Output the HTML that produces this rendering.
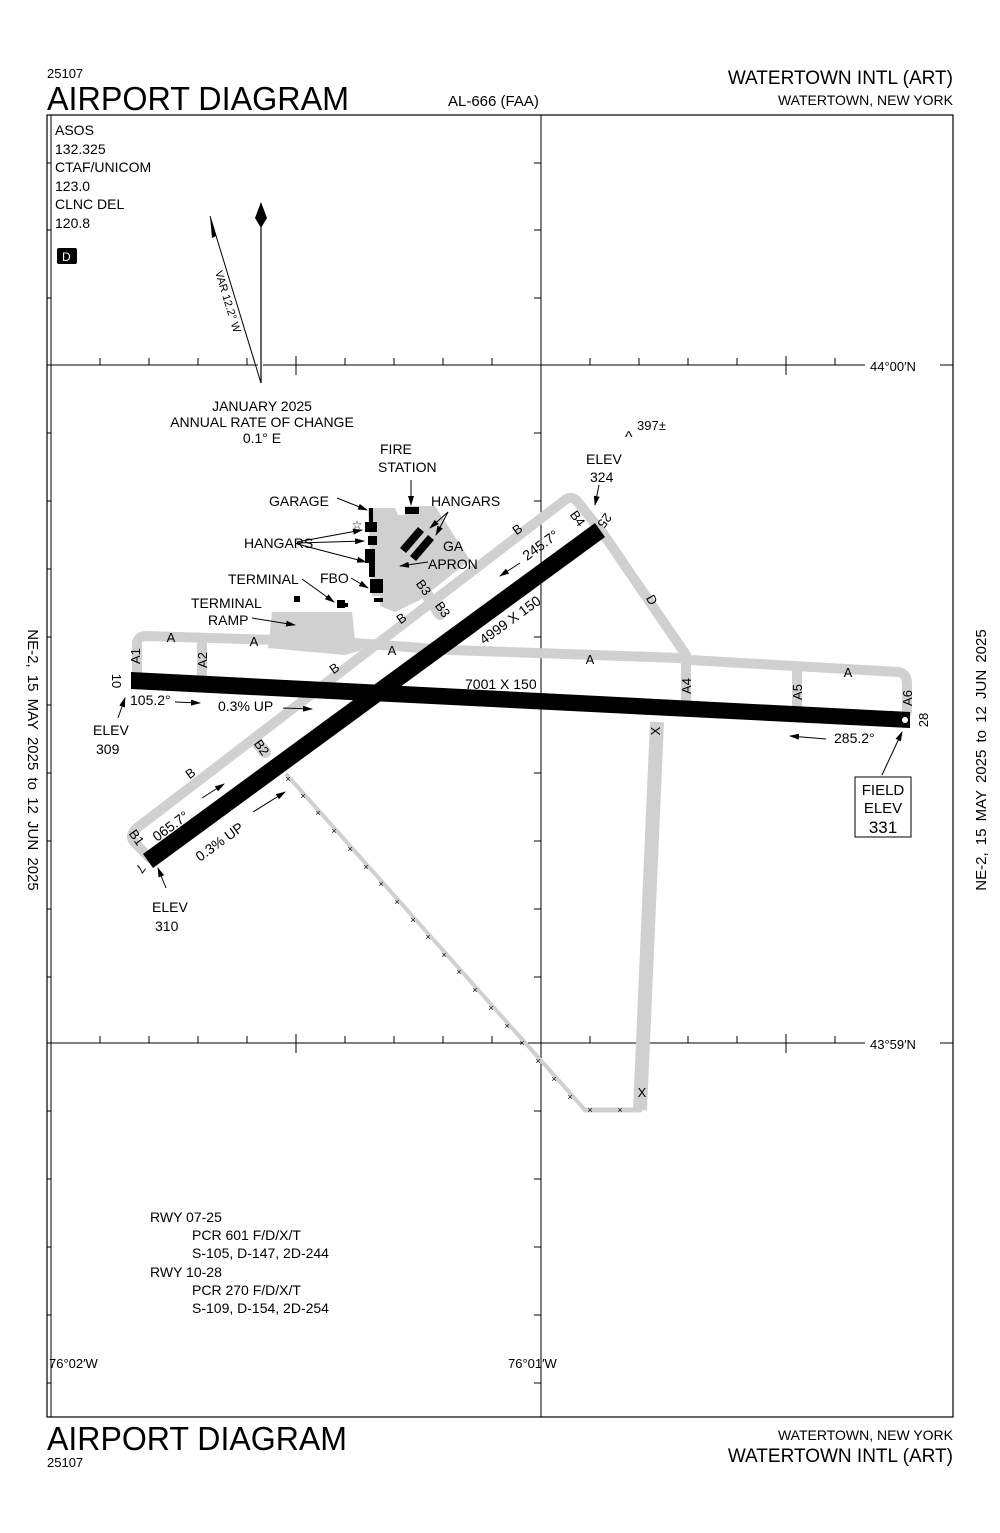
<!DOCTYPE html>
<html><head><meta charset="utf-8"><style>
html,body{margin:0;padding:0;background:#fff}
svg{display:block}
text{font-family:"Liberation Sans",sans-serif;fill:#000}
</style></head><body>
<svg width="1000" height="1533" viewBox="0 0 1000 1533" xmlns="http://www.w3.org/2000/svg">
<defs>
<marker id="ar" markerWidth="10" markerHeight="6" refX="9" refY="3" orient="auto" markerUnits="userSpaceOnUse"><path d="M0,0 L10,3 L0,6 z" fill="#000"/></marker>
</defs>
<text x="47" y="78" font-size="13">25107</text>
<text x="47" y="110" font-size="33" textLength="302" lengthAdjust="spacingAndGlyphs">AIRPORT DIAGRAM</text>
<text x="448" y="106" font-size="15">AL-666 (FAA)</text>
<text x="953" y="84" font-size="19" text-anchor="end">WATERTOWN INTL (ART)</text>
<text x="953" y="105" font-size="14" text-anchor="end">WATERTOWN, NEW YORK</text>
<text x="47" y="1450" font-size="33" textLength="300" lengthAdjust="spacingAndGlyphs">AIRPORT DIAGRAM</text>
<text x="47" y="1467" font-size="13">25107</text>
<text x="953" y="1440" font-size="14" text-anchor="end">WATERTOWN, NEW YORK</text>
<text x="953" y="1462" font-size="19" text-anchor="end">WATERTOWN INTL (ART)</text>
<text transform="translate(28,760) rotate(90)" font-size="15" text-anchor="middle" word-spacing="3">NE-2,  15 MAY 2025  to  12 JUN 2025</text>
<text transform="translate(986,760) rotate(-90)" font-size="15" text-anchor="middle" word-spacing="3">NE-2,  15 MAY 2025  to  12 JUN 2025</text>
<rect x="47" y="115" width="906" height="1302" fill="none" stroke="#000" stroke-width="1.2"/>
<line x1="51" y1="115" x2="51" y2="1417" stroke="#000" stroke-width="1"/>
<line x1="541" y1="115" x2="541" y2="1417" stroke="#000" stroke-width="1"/>
<line x1="47" y1="365" x2="258" y2="365" stroke="#000"/>
<line x1="263" y1="365" x2="865" y2="365" stroke="#000"/>
<line x1="940" y1="365" x2="953" y2="365" stroke="#000"/>
<line x1="47" y1="1043" x2="865" y2="1043" stroke="#000"/>
<line x1="940" y1="1043" x2="953" y2="1043" stroke="#000"/>
<text x="870" y="371" font-size="13">44°00′N</text>
<text x="870" y="1049" font-size="13">43°59′N</text>
<text x="49" y="1368" font-size="13">76°02′W</text>
<text x="508" y="1368" font-size="13">76°01′W</text>
<g stroke="#000" stroke-width="1">
<path d="M100,358V365M149,358V365M198,358V365M247,358V365M296,356V375M345,358V365M394,358V365M443,358V365M492,358V365M590,358V365M639,358V365M688,358V365M737,358V365M786,356V375M835,358V365"/>
<path d="M100,1036V1043M149,1036V1043M198,1036V1043M247,1036V1043M296,1034V1053M345,1036V1043M394,1036V1043M443,1036V1043M492,1036V1043M590,1036V1043M639,1036V1043M688,1036V1043M737,1036V1043M786,1034V1053M835,1036V1043"/>
<path d="M47,163H51M47,230H51M47,298H51M47,433H51M47,501H51M47,569H51M47,637H51M47,705H51M47,773H51M47,841H51M47,909H51M47,977H51M47,1111H51M47,1179H51M47,1247H51M47,1315H51M47,1383H51"/>
<path d="M534,163H541M534,230H541M534,298H541M534,433H541M534,501H541M534,569H541M534,637H541M534,705H541M534,773H541M534,841H541M534,909H541M534,977H541M534,1111H541M534,1179H541M534,1247H541M534,1315H541M534,1383H541"/>
</g>
<g font-size="14">
<text x="55" y="135">ASOS</text><text x="55" y="154">132.325</text>
<text x="55" y="172">CTAF/UNICOM</text><text x="55" y="191">123.0</text>
<text x="55" y="209">CLNC DEL</text><text x="55" y="228">120.8</text>
</g>
<rect x="57" y="248" width="20" height="16" rx="2" fill="#000"/>
<text x="62" y="261" font-size="12" style="fill:#fff">D</text>
<line x1="261" y1="225" x2="261" y2="383" stroke="#000" stroke-width="1.2"/>
<path d="M261,202 L267,218 L261,228 L255,218 z" fill="#000"/>
<line x1="210" y1="216" x2="261" y2="383" stroke="#000" stroke-width="1"/>
<path d="M210,216 L216,236 L212,238 z" fill="#000"/>
<text transform="translate(215,272) rotate(73)" font-size="11">VAR 12.2° W</text>
<g font-size="14" text-anchor="middle">
<text x="262" y="411">JANUARY 2025</text>
<text x="262" y="427">ANNUAL RATE OF CHANGE</text>
<text x="262" y="443">0.1° E</text>
</g>
<g fill="#d0d0d0" stroke="none">
<path d="M368,508 L395,508 L398,515 L405,515 L405,506 L435,506 L470,560 L420,600 L395,612 L380,606 L380,596 L372,596 Z"/>
<path d="M272,612 L352,612 L355,640 L362,650 L345,655 L268,648 Z"/>
</g>
<g fill="none" stroke="#d0d0d0" stroke-linecap="round" stroke-linejoin="round">
<path d="M137,678 L137,645 Q137,636 146,636 L340,642 L450,650 L680,658 Q686,660 690,660 L898,672 Q907,673 907,684 L907,712" stroke-width="10"/>
<path d="M202,684 L202,642" stroke-width="10"/>
<path d="M686,704 L686,658" stroke-width="10"/>
<path d="M797,710 L797,668" stroke-width="10"/>
<path d="M150,858 L135,843 Q128,836 137,828 L565,500 Q572,495 578,502 L600,530" stroke-width="10"/>
<path d="M265,752 L255,740" stroke-width="12"/>
<path d="M440,614 L425,592" stroke-width="12"/>
<path d="M602,532 L686,655" stroke-width="10"/>
<path d="M657,722 L640,1110" stroke-width="14" stroke-linecap="butt"/>
<path d="M640,1110 L585,1110" stroke-width="5"/>
<path d="M287,775 L585,1110" stroke-width="4"/>
</g>
<g font-size="9" text-anchor="middle">
<text x="288" y="782">×</text><text x="303" y="799">×</text><text x="318" y="816">×</text><text x="334" y="834">×</text><text x="350" y="852">×</text><text x="366" y="870">×</text><text x="381" y="887">×</text><text x="397" y="905">×</text><text x="413" y="923">×</text><text x="428" y="940">×</text><text x="444" y="958">×</text><text x="459" y="975">×</text><text x="475" y="993">×</text><text x="491" y="1011">×</text><text x="507" y="1029">×</text><text x="522" y="1046">×</text><text x="538" y="1064">×</text><text x="554" y="1082">×</text><text x="570" y="1100">×</text><text x="590" y="1113">×</text><text x="620" y="1113">×</text>
</g>
<path d="M131,672 L910,712 L910,728 L131,689 Z" fill="#000"/>
<path d="M143,854 L595,523 L605,537 L153,868 Z" fill="#000"/>
<circle cx="905" cy="720" r="3" fill="#fff"/>
<g fill="#000">
<rect x="369" y="508" width="4" height="14"/>
<rect x="365" y="522" width="12" height="10"/>
<rect x="368" y="536" width="9" height="9"/>
<rect x="365" y="549" width="10" height="14"/>
<rect x="369" y="563" width="6" height="14"/>
<rect x="370" y="579" width="13" height="14"/>
<rect x="374" y="598" width="9" height="4"/>
<rect x="405" y="507" width="14" height="7"/>
<path d="M400,548 L418,527 L424,532 L406,553 Z"/>
<path d="M410,556 L428,535 L434,540 L416,561 Z"/>
<rect x="294" y="596" width="6" height="6"/>
<rect x="337" y="600" width="8" height="8"/><rect x="343" y="603" width="5" height="4"/>
</g>
<text x="357" y="529" font-size="12" text-anchor="middle">☆</text>
<g font-size="14" stroke="none">
<text x="269" y="506">GARAGE</text>
<text x="244" y="548">HANGARS</text>
<text x="380" y="454">FIRE</text><text x="378" y="472">STATION</text>
<text x="431" y="506">HANGARS</text>
<text x="443" y="551">GA</text><text x="428" y="569">APRON</text>
<text x="228" y="584">TERMINAL</text>
<text x="320" y="583">FBO</text>
<text x="191" y="608">TERMINAL</text><text x="208" y="625">RAMP</text>
<text x="586" y="464">ELEV</text><text x="590" y="482">324</text>
<text x="637" y="430" font-size="13">397±</text>
<text x="93" y="735">ELEV</text><text x="96" y="754">309</text>
<text x="152" y="912">ELEV</text><text x="155" y="931">310</text>
<text x="130" y="705">105.2°</text>
<text x="218" y="711">0.3% UP</text>
<text x="834" y="743">285.2°</text>
<text x="465" y="689">7001 X 150</text>
</g>
<text x="625" y="442" font-size="16">^</text>
<g stroke="#000" stroke-width="1" fill="none" marker-end="url(#ar)">
<path d="M337,498 L367,510"/>
<path d="M297,542 L362,530"/>
<path d="M297,543 L364,541"/>
<path d="M297,544 L366,562"/>
<path d="M411,480 L411,505"/>
<path d="M448,512 L430,528"/>
<path d="M448,512 L436,535"/>
<path d="M428,562 L400,566"/>
<path d="M302,579 L334,602"/>
<path d="M351,578 L368,588"/>
<path d="M252,618 L295,625"/>
<path d="M599,485 L595,505"/>
<path d="M175,702 L200,703"/>
<path d="M283,708 L312,709"/>
<path d="M826,739 L790,736"/>
<path d="M118,718 L125,698"/>
<path d="M166,888 L158,868"/>
<path d="M882,775 L902,732"/>
<path d="M520,563 L500,576"/>
<path d="M202,798 L224,784"/>
<path d="M253,812 L285,792"/>
</g>
<rect x="855" y="777" width="56" height="60" fill="#fff" stroke="#000"/>
<g font-size="15" text-anchor="middle"><text x="883" y="795">FIELD</text><text x="883" y="813">ELEV</text><text x="883" y="833" font-size="17">331</text></g>
<g font-size="13" text-anchor="middle">
<text x="171" y="642">A</text><text x="254" y="646">A</text><text x="392" y="655">A</text><text x="590" y="664">A</text><text x="848" y="677">A</text>
<text transform="translate(140,656) rotate(-90)">A1</text>
<text transform="translate(207,660) rotate(-90)">A2</text>
<text transform="translate(691,686) rotate(-90)">A4</text>
<text transform="translate(802,692) rotate(-90)">A5</text>
<text transform="translate(912,698) rotate(-90)">A6</text>
<text transform="translate(928,720) rotate(-90)">28</text>
<text transform="translate(112,681) rotate(90)">10</text>
<text transform="translate(648,602) rotate(60)">D</text>
<text transform="translate(660,731) rotate(-90)">X</text>
<text transform="translate(642,1097)">X</text>
<text transform="translate(520,533) rotate(-36)">B</text>
<text transform="translate(404,622) rotate(-36)">B</text>
<text transform="translate(337,672) rotate(-36)">B</text>
<text transform="translate(193,777) rotate(-36)">B</text>
<text transform="translate(420,590) rotate(54)">B3</text>
<text transform="translate(439,612) rotate(54)">B3</text>
<text transform="translate(258,750) rotate(54)">B2</text>
<text transform="translate(133,840) rotate(54)">B1</text>
<text transform="translate(574,521) rotate(54)">B4</text>
<text transform="translate(601,518) rotate(126)">25</text>
<text transform="translate(137,866) rotate(126)">7</text>
</g>
<g font-size="14">
<text transform="translate(484,645) rotate(-36)">4999 X 150</text>
<text transform="translate(527,561) rotate(-36)">245.7°</text>
<text transform="translate(157,842) rotate(-36)">065.7°</text>
<text transform="translate(200,862) rotate(-36)">0.3% UP</text>
</g>
<g font-size="14">
<text x="150" y="1222">RWY 07-25</text>
<text x="192" y="1240">PCR 601 F/D/X/T</text>
<text x="192" y="1258">S-105, D-147, 2D-244</text>
<text x="150" y="1277">RWY 10-28</text>
<text x="192" y="1295">PCR 270 F/D/X/T</text>
<text x="192" y="1313">S-109, D-154, 2D-254</text>
</g>
</svg>
</body></html>
